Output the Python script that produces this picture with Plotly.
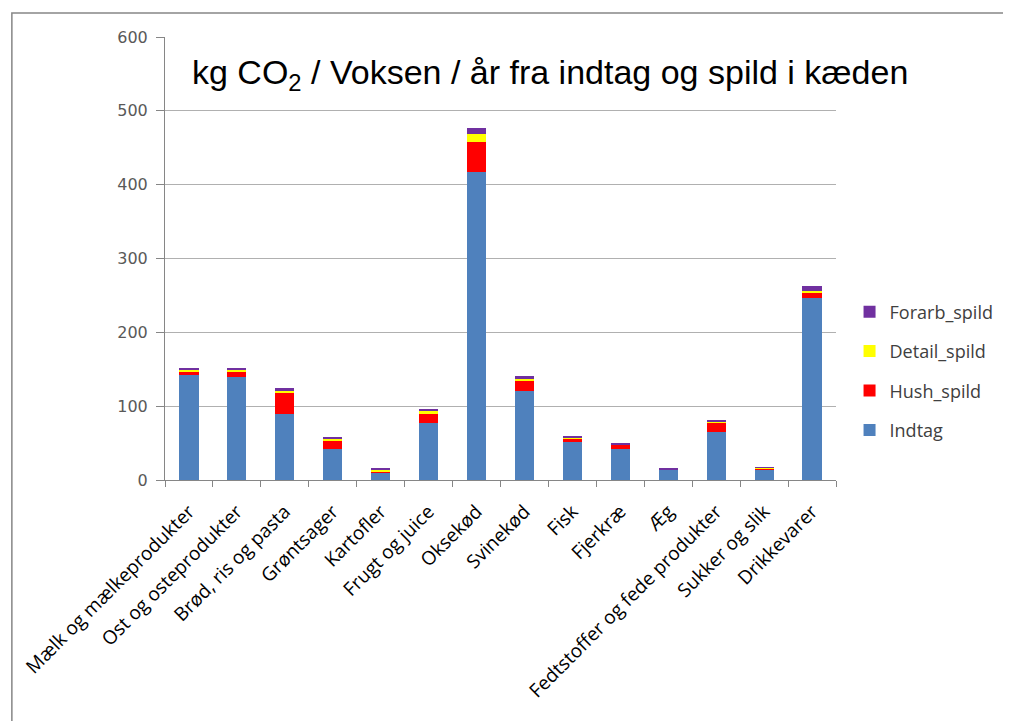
import plotly.graph_objects as go

categories = ["Mælk og mælkeprodukter", "Ost og osteprodukter", "Brød, ris og pasta",
              "Grøntsager", "Kartofler", "Frugt og juice", "Oksekød", "Svinekød",
              "Fisk", "Fjerkræ", "Æg", "Fedtstoffer og fede produkter",
              "Sukker og slik", "Drikkevarer"]
indtag = [142, 140, 89, 42, 10, 77, 417, 121, 51, 42, 14, 65, 14, 246]
hush_spild = [4, 6, 29, 12, 2, 13, 41, 14, 5, 6, 0.5, 13.5, 2, 7]
detail_spild = [3, 3, 3, 2, 2, 3.5, 10, 2, 2, 0.5, 0.3, 1, 0.5, 3]
forarb_spild = [3, 3, 4, 2, 1.5, 3, 9, 4, 2, 0.5, 1, 0.5, 0.5, 7]
y_ticks = [0, 100, 200, 300, 400, 500, 600]

series = [("Indtag", indtag, "#4F81BD", 4),
          ("Hush_spild", hush_spild, "#FF0000", 3),
          ("Detail_spild", detail_spild, "#FFFF00", 2),
          ("Forarb_spild", forarb_spild, "#7030A0", 1)]

fig = go.Figure()
for name, vals, col, rank in series:
    fig.add_trace(go.Bar(x=categories, y=vals, name=name, legendgroup=name,
                         legendrank=rank,
                         marker=dict(color=col, line=dict(width=0))))

OFF = 8  # page body margin
W, H = 1011 - OFF, 721 - OFF
# plot area in page pixel coords
PL, PR, PT, PB = 163, 840, 37, 480
L, R, T, B = PL - OFF, W - (PR - OFF), PT - OFF, H - (PB - OFF)
pw, ph = PR - PL, PB - PT

def px(x):
    return (x - PL) / pw

def py(y):
    return (PB - y) / ph

fig.update_layout(
    width=W, height=H,
    margin=dict(l=L, r=R, t=T, b=B),
    barmode="stack", bargap=0.6,
    paper_bgcolor="white", plot_bgcolor="white",
    showlegend=True,
    legend=dict(traceorder="grouped", tracegroupgap=13,
                x=px(1004), xanchor="right", y=py(371), yanchor="middle",
                font=dict(family="Open Sans, Liberation Sans", size=18, color="#404040"),
                itemwidth=30),
    xaxis=dict(showline=True, linecolor="#868686", linewidth=1,
               ticks="outside", tickson="boundaries", ticklen=6, tickcolor="#868686",
               tickangle=-45, ticklabelstandoff=12,
               tickfont=dict(family="Open Sans, Liberation Sans", size=19, color="black")),
    yaxis=dict(range=[0, 600], tickvals=y_ticks, showgrid=True, gridcolor="#B0B0B0",
               showline=True, linecolor="#868686", linewidth=1,
               ticks="outside", ticklen=8, tickcolor="#868686", ticklabelstandoff=5,
               tickfont=dict(family="DejaVu Sans", size=16, color="#595959"),
               zeroline=False),
    annotations=[dict(text="kg CO<sub>2</sub> / Voksen / år fra indtag og spild i kæden",
                      x=px(551), y=py(74), xref="paper", yref="paper",
                      showarrow=False, xanchor="center", yanchor="middle",
                      font=dict(family="Liberation Sans, Arial", size=34, color="black"))],
    shapes=[dict(type="rect", xref="paper", yref="paper",
                 x0=px(8.5), x1=px(1040), y0=py(760), y1=py(13),
                 line=dict(color="#868686", width=1.5), layer="below")],
)

fig.write_html("out.html")
